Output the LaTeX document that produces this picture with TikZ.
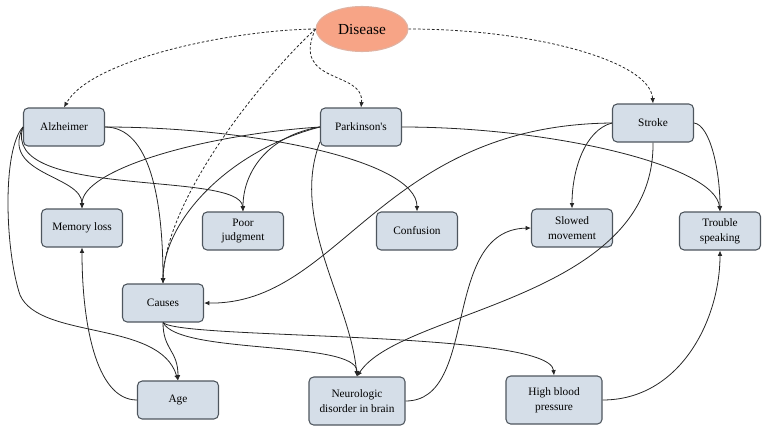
\documentclass[tikz,border=0pt]{standalone}
\usepackage{fontspec}
\setmainfont{Liberation Serif}
\usetikzlibrary{arrows.meta,shapes.geometric}
\definecolor{boxFill}{HTML}{D5DEE8}
\definecolor{boxLine}{HTML}{4E565E}
\definecolor{diseaseFill}{HTML}{F7A486}
\definecolor{diseaseLine}{HTML}{E0B3A3}
\definecolor{linkColor}{HTML}{262626}
\newcommand\boxW{60.75pt}
\newcommand\boxH{28.5pt}
\newcommand\wideW{72pt}
\newcommand\wideH{36pt}
\tikzset{
	symptombox/.style={draw=boxLine, fill=boxFill, rounded corners=3.5pt, line width=0.8pt,
		minimum width=\boxW, minimum height=\boxH, inner sep=1pt, align=center,
		font=\fontsize{8.5}{11}\selectfont},
	widebox/.style={symptombox, minimum width=\wideW, minimum height=\wideH},
	link/.style={draw=linkColor, line width=0.6pt, -{Latex[length=4pt,width=3.5pt]}},
	dashlink/.style={link, dash pattern=on 2pt off 1.5pt},
}

\begin{document}
\begin{tikzpicture}[x=0.75pt, y=0.75pt]
	
	\useasboundingbox (0,0) rectangle (766,-432);
	
	\node[ellipse, draw=diseaseLine, fill=diseaseFill, line width=0.8pt, minimum width=69pt, minimum height=33.75pt, inner sep=0pt, font=\fontsize{11.5}{13}\selectfont] (disease) at (362,-29) {Disease};
	
	\foreach \nm/\px/\py/\txt in {alz/64/127/Alzheimer, park/361/127/{Parkinson\textquotesingle s}, stroke/653/123/Stroke,
		mem/82/228/Memory loss, poor/243/231/{Poor\\judgment}, conf/417/231/Confusion,
		slow/572/228/{Slowed\\movement}, trouble/720/231/{Trouble\\speaking},
		causes/163/303/Causes, age/178/400/Age}{
		\node[symptombox] (\nm) at (\px,-\py) {\txt};
	}
	\foreach \nm/\px/\py/\txt in {neuro/357/401/{Neurologic\\disorder in brain}, hbp/554/400/{High blood\\pressure}}{
		\node[widebox] (\nm) at (\px,-\py) {\txt};
	}
	
	\draw[dashlink] (disease.west) .. controls (230,-30) and (90,-60) .. (alz.north);
	\draw[dashlink] (disease.west) .. controls (260,-80) and (165,-200) .. (causes.north);
	\draw[dashlink] (disease.west) .. controls (290,-85) and (365,-70) .. (park.north);
	\draw[dashlink] (disease.east) .. controls (530,-29) and (650,-60) .. (stroke.north);
	
	\draw[link] (alz.west) .. controls (0,-175) and (82,-175) .. (mem.north);
	\draw[link] (alz.west) .. controls (0,-200) and (240,-170) .. (poor.north);
	\draw[link] (alz.west) .. controls (2,-150) and (5,-250) .. (20,-295) .. controls (40,-340) and (160,-320) .. (age.north);
	\draw[link] (alz.east) .. controls (150,-127) and (163,-200) .. (causes.north);
	\draw[link] (alz.east) .. controls (250,-127) and (417,-160) .. (conf.north);
	
	\draw[link] (park.west) .. controls (200,-135) and (82,-170) .. (mem.north);
	\draw[link] (park.west) .. controls (270,-135) and (243,-170) .. (poor.north);
	\draw[link] (park.west) .. controls (230,-150) and (163,-220) .. (causes.north);
	\draw[link] (park.200) .. controls (290,-220) and (350,-300) .. (neuro.north);
	\draw[link] (park.east) .. controls (550,-127) and (715,-165) .. (trouble.north);
	
	\draw[link] (stroke.west) .. controls (380,-125) and (340,-305) .. (causes.east);
	\draw[link] (stroke.west) .. controls (585,-130) and (572,-170) .. (slow.north);
	\draw[link] (stroke.south) .. controls (655,-300) and (400,-310) .. (neuro.north);
	\draw[link] (stroke.east) .. controls (710,-125) and (720,-170) .. (trouble.north);
	
	\draw[link] (causes.south) .. controls (163,-350) and (178,-350) .. (age.north);
	\draw[link] (causes.south) .. controls (180,-355) and (357,-340) .. (neuro.north);
	\draw[link] (causes.south) .. controls (180,-340) and (550,-330) .. (hbp.north);
	
	\draw[link] (age.west) .. controls (95,-400) and (82,-320) .. (mem.south);
	\draw[link] (neuro.east) .. controls (480,-401) and (440,-230) .. (slow.west);
	\draw[link] (hbp.east) .. controls (680,-400) and (720,-320) .. (trouble.south);
	
\end{tikzpicture}
\end{document}
